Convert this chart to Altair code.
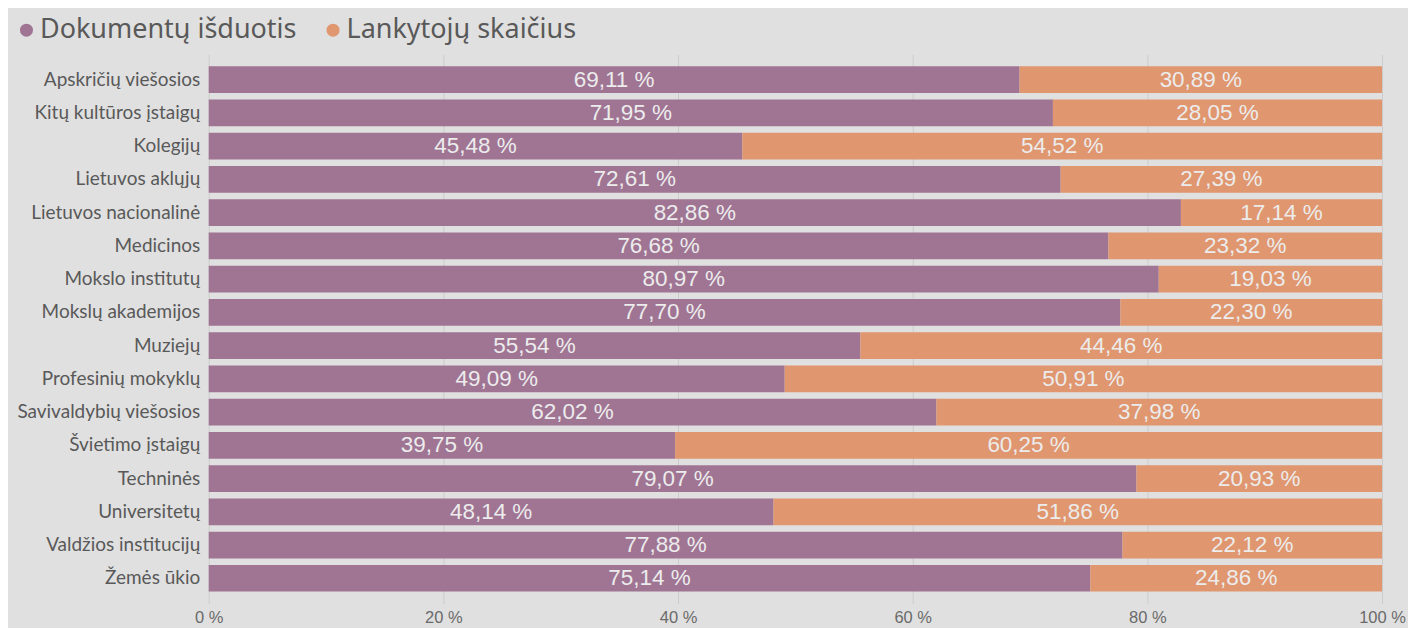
import altair as alt
import pandas as pd

categories = [
    "Apskričių viešosios", "Kitų kultūros įstaigų", "Kolegijų", "Lietuvos aklųjų",
    "Lietuvos nacionalinė", "Medicinos", "Mokslo institutų", "Mokslų akademijos",
    "Muziejų", "Profesinių mokyklų", "Savivaldybių viešosios", "Švietimo įstaigų",
    "Techninės", "Universitetų", "Valdžios institucijų", "Žemės ūkio",
]
dokumentu = [69.11, 71.95, 45.48, 72.61, 82.86, 76.68, 80.97, 77.70,
             55.54, 49.09, 62.02, 39.75, 79.07, 48.14, 77.88, 75.14]
lankytoju = [30.89, 28.05, 54.52, 27.39, 17.14, 23.32, 19.03, 22.30,
             44.46, 50.91, 37.98, 60.25, 20.93, 51.86, 22.12, 24.86]
series = ["Dokumentų išduotis", "Lankytojų skaičius"]
colors = ["#a07594", "#e0966f"]
x_ticks = [0, 20, 40, 60, 80, 100]

rows = []
for c, d, l in zip(categories, dokumentu, lankytoju):
    rows.append({"cat": c, "series": series[0], "order": 0, "value": d})
    rows.append({"cat": c, "series": series[1], "order": 1, "value": l})
df = pd.DataFrame(rows)

base = alt.Chart(df).transform_stack(
    stack="value", groupby=["cat"], as_=["x0", "x1"],
    sort=[alt.SortField("order", order="ascending")],
).transform_calculate(
    mid="(datum.x0 + datum.x1) / 2",
    label="replace(format(datum.value, '.2f'), '.', ',') + ' %'",
)

y_enc = alt.Y(
    "cat:N", sort=categories, title=None,
    scale=alt.Scale(paddingInner=0.2, paddingOuter=0.36),
    axis=alt.Axis(ticks=False, domain=False, labelFont="Lato", labelFontSize=19,
                  labelColor="#595959", labelPadding=9, grid=False, labelLimit=300),
)

bars = base.mark_bar().encode(
    x=alt.X("x0:Q", scale=alt.Scale(domain=[0, 100], nice=False), title=None,
            axis=alt.Axis(values=x_ticks, labelExpr="datum.value + ' %'",
                          domain=False, ticks=False, grid=True, gridColor="#cccccc",
                          labelFont="Liberation Sans", labelFontSize=16.5, labelFlush=False,
                          labelColor="#6a6a6a", labelPadding=6)),
    x2="x1:Q",
    y=y_enc,
    color=alt.Color("series:N", scale=alt.Scale(domain=series, range=colors),
                    legend=alt.Legend(title=None, orient="none", legendX=-196, legendY=-38,
                                      direction="horizontal", symbolType="circle",
                                      symbolSize=170, symbolStrokeWidth=0,
                                      labelFont="Noto Sans", labelFontSize=27,
                                      labelColor="#595959", labelOffset=0,
                                      columnPadding=23, labelLimit=400)),
)

texts = base.mark_text(font="Liberation Sans", fontSize=22.5, color="#ececec",
                       align="center", baseline="middle").encode(
    x=alt.X("mid:Q"),
    y=alt.Y("cat:N", sort=categories),
    text="label:N",
)

chart = alt.layer(bars, texts).properties(
    width=1175, height=550,
    autosize=alt.AutoSizeParams(type="none"),
    padding={"left": 201, "top": 46, "right": 26, "bottom": 24},
    background="#e0e0e0",
).configure_view(stroke=None)

chart.save("out.html", embed_options={"renderer": "svg", "actions": False})
